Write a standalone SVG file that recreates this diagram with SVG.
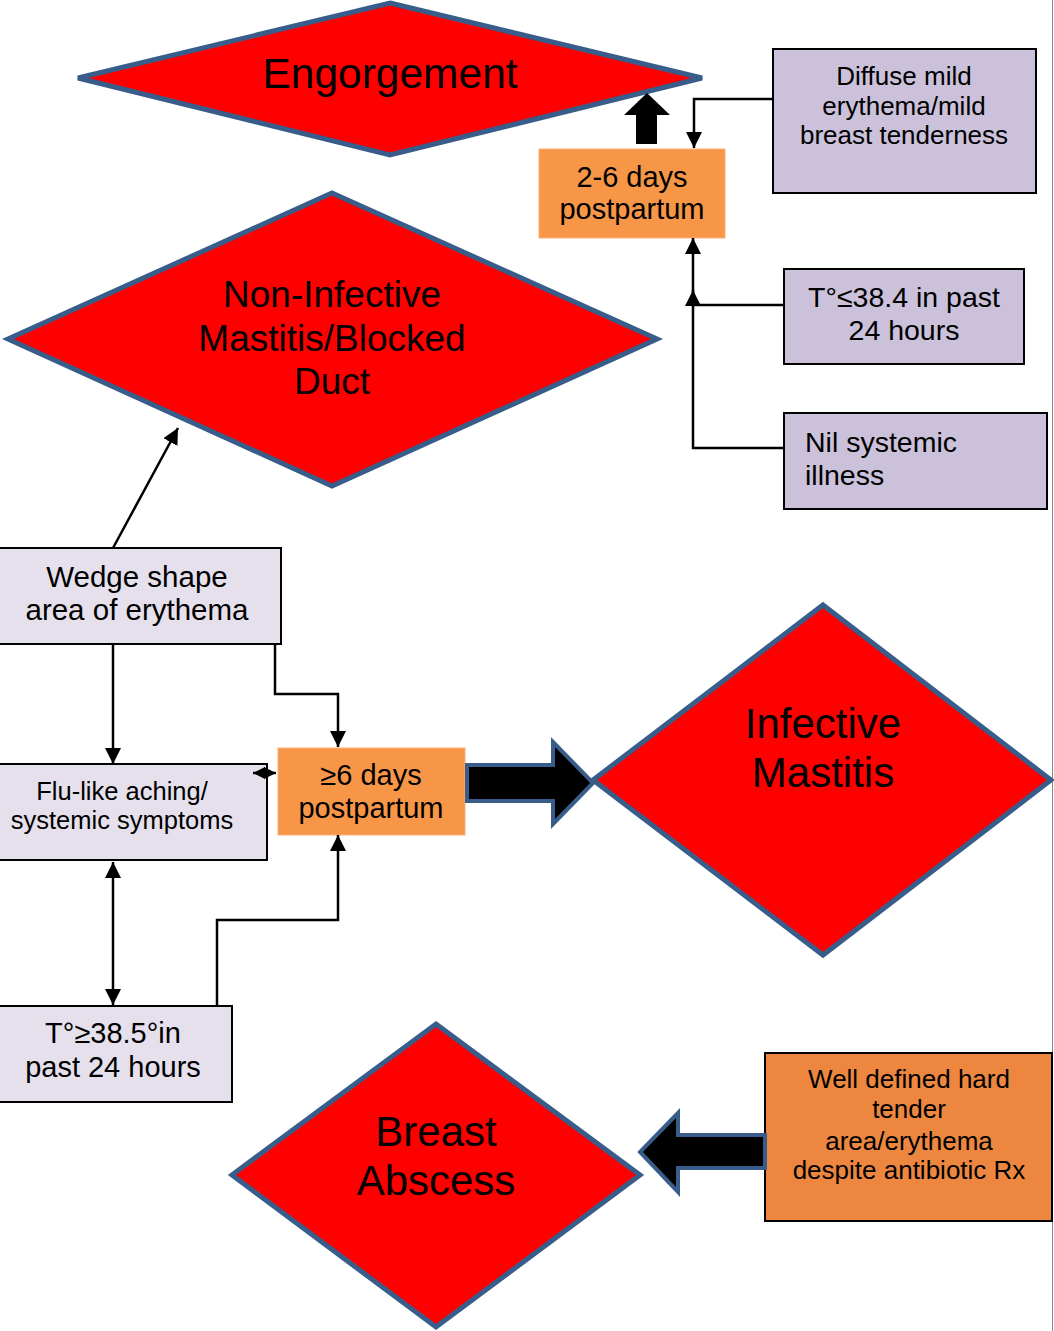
<svg xmlns="http://www.w3.org/2000/svg" width="1054" height="1331" viewBox="0 0 1054 1331">
<defs>
<style>
.dia{fill:#FF0000;stroke:#385D8A;stroke-width:5;stroke-linejoin:miter}
.box{stroke:#000;stroke-width:2}
.lav{fill:#CCC1DA}
.lt{fill:#E5E0EC}
.org{fill:#F79646;stroke:#F9B07A;stroke-width:1}
.org2{fill:#ED873F}
text{font-family:"Liberation Sans",Arial,sans-serif;fill:#000}
.c{text-anchor:middle}
.ln{fill:none;stroke:#000;stroke-width:2.5}
.blk{fill:#000;stroke:#385D8A;stroke-width:4;stroke-linejoin:miter}
</style>
<marker id="ah" viewBox="0 0 10 10" refX="10" refY="5" markerWidth="12" markerHeight="12" markerUnits="userSpaceOnUse" orient="auto-start-reverse">
<path d="M0,0 L10,5 L0,10 z" fill="#000"/>
</marker>
<marker id="ah2" viewBox="0 0 10 10" refX="10" refY="5" markerWidth="16" markerHeight="16" markerUnits="userSpaceOnUse" orient="auto-start-reverse">
<path d="M0,0 L10,5 L0,10 z" fill="#000"/>
</marker>
</defs>
<rect x="0" y="0" width="1054" height="1331" fill="#fff"/>
<line x1="1052.5" y1="0" x2="1052.5" y2="1331" stroke="#888" stroke-width="1"/>

<g id="engorgement">
<polygon class="dia" points="390,3 702,78 390,155 78,78"/>
<text class="c" x="390" y="88" font-size="42.5">Engorgement</text>
</g>

<g id="non-infective">
<polygon class="dia" points="332,193 657,339 332,486 8,339"/>
<text class="c" x="332" y="307" font-size="37">Non-Infective</text>
<text class="c" x="332" y="351" font-size="37">Mastitis/Blocked</text>
<text class="c" x="332" y="394" font-size="37">Duct</text>
</g>

<g id="infective">
<polygon class="dia" points="823,605 1051,780 823,955 593,780"/>
<text class="c" x="823" y="738" font-size="42">Infective</text>
<text class="c" x="823" y="787" font-size="42">Mastitis</text>
</g>

<g id="abscess">
<polygon class="dia" points="436,1024 640,1175 436,1327 232,1175"/>
<text class="c" x="436" y="1146" font-size="42">Breast</text>
<text class="c" x="436" y="1195" font-size="42">Abscess</text>
</g>

<g id="days2to6">
<rect class="org" x="539" y="149" width="186" height="89"/>
<text class="c" x="632" y="187" font-size="29">2-6 days</text>
<text class="c" x="632" y="219" font-size="29">postpartum</text>
</g>

<g id="diffuse">
<rect class="box lav" x="773" y="49" width="263" height="144"/>
<text class="c" x="904" y="85" font-size="26">Diffuse mild</text>
<text class="c" x="904" y="115" font-size="26">erythema/mild</text>
<text class="c" x="904" y="144" font-size="26">breast tenderness</text>
</g>

<g id="temp-low">
<rect class="box lav" x="784" y="269" width="240" height="95"/>
<text class="c" x="904" y="307" font-size="28.5">T°≤38.4 in past</text>
<text class="c" x="904" y="340" font-size="28.5">24 hours</text>
</g>

<g id="nil-systemic">
<rect class="box lav" x="784" y="413" width="263" height="96"/>
<text x="805" y="452" font-size="28.5">Nil systemic</text>
<text x="805" y="485" font-size="28.5">illness</text>
</g>

<g id="wedge">
<rect class="box lt" x="-2" y="548" width="283" height="96"/>
<text class="c" x="137" y="587" font-size="29.5">Wedge shape</text>
<text class="c" x="137" y="620" font-size="29.5">area of erythema</text>
</g>

<g id="flu-like">
<rect class="box lt" x="-2" y="764" width="269" height="96"/>
<text class="c" x="122" y="800" font-size="25.5">Flu-like aching/</text>
<text class="c" x="122" y="829" font-size="25.5">systemic symptoms</text>
</g>

<g id="days6">
<rect class="org" x="278" y="748" width="187" height="87"/>
<text class="c" x="371" y="785" font-size="29">≥6 days</text>
<text class="c" x="371" y="818" font-size="29">postpartum</text>
</g>

<g id="temp-high">
<rect class="box lt" x="-2" y="1006" width="234" height="96"/>
<text class="c" x="113" y="1043" font-size="29">T°≥38.5°in</text>
<text class="c" x="113" y="1077" font-size="29">past 24 hours</text>
</g>

<g id="well-defined">
<rect class="box org2" x="765" y="1053" width="287" height="168"/>
<text class="c" x="909" y="1088" font-size="26">Well defined hard</text>
<text class="c" x="909" y="1118" font-size="26">tender</text>
<text class="c" x="909" y="1150" font-size="26">area/erythema</text>
<text class="c" x="909" y="1179" font-size="26">despite antibiotic Rx</text>
</g>

<g id="connectors">
<path class="ln" d="M772,99 H694 V148" marker-end="url(#ah2)"/>
<path class="ln" d="M783,448 H693 V238" marker-end="url(#ah2)"/>
<path class="ln" d="M783,305 H693 V290" marker-end="url(#ah2)"/>
<path class="ln" d="M113,548 L178,428" marker-end="url(#ah2)"/>
<path class="ln" d="M113,645 V764" marker-end="url(#ah2)"/>
<path class="ln" d="M275,645 V694 H338 V747" marker-end="url(#ah2)"/>
<path class="ln" d="M253,773 H276" marker-start="url(#ah)" marker-end="url(#ah)"/>
<path class="ln" d="M113,862 V1005" marker-start="url(#ah2)" marker-end="url(#ah2)"/>
<path class="ln" d="M217,1006 V920 H338 V835" marker-end="url(#ah2)"/>
<polygon points="636,144 657,144 657,115 670,115 647,93 624,115 636,115" fill="#000"/>
<polygon class="blk" points="467,765 553,765 553,742 593,783 553,824 553,801 467,801"/>
<polygon class="blk" points="765,1135 678,1135 678,1113 640,1152 678,1192 678,1168 765,1168"/>
</g>
</svg>
